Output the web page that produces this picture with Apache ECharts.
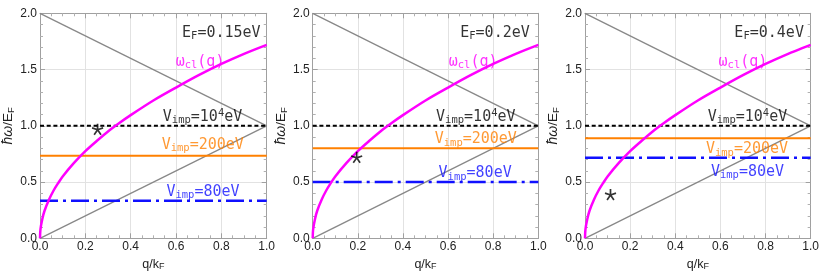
<!DOCTYPE html>
<html>
<head>
<meta charset="utf-8">
<script src="https://cdn.jsdelivr.net/npm/echarts@6/dist/echarts.min.js"></script>
<style>html,body{margin:0;padding:0;background:#fff}#c{width:822px;height:280px}</style>
</head>
<body>
<div id="c"></div>
<script>
// ---- data ----
const qCurve   = [0, 0.002, 0.01, 0.02, 0.04, 0.06, 0.08, 0.1, 0.15, 0.2, 0.25, 0.3, 0.35, 0.4, 0.5, 0.6, 0.7, 0.8, 0.9, 1.0];
const omegaCl  = [0, 0.08, 0.17, 0.245, 0.345, 0.425, 0.49, 0.55, 0.67, 0.775, 0.865, 0.95, 1.025, 1.095, 1.225, 1.34, 1.45, 1.55, 1.64, 1.72];
const grayDownQ = [0, 1];  const grayDownW = [2, 1];
const grayUpQ   = [0, 1];  const grayUpW   = [0, 1];
const efValues  = ['0.15', '0.2', '0.4'];
const vImp1e4   = [1.0, 1.0, 1.0];
const vImp200   = [0.734, 0.80, 0.889];
const vImp80    = [0.333, 0.50, 0.716];
const starQ     = [0.254, 0.195, 0.113];
const starW     = [0.97, 0.72, 0.39];
const xTicks    = [0, 0.2, 0.4, 0.6, 0.8, 1.0];
const yTicks    = [0, 0.5, 1.0, 1.5, 2.0];

// ---- layout / style (not data) ----
const grids = [
  {left: 40,    top: 13.3, width: 226.7, height: 225},
  {left: 312.7, top: 13.3, width: 225.6, height: 225},
  {left: 585,   top: 13.3, width: 226.7, height: 225}
];
const annPos = [
  {ef:[0.80,1.825], om:[0.706,1.57], v4:[0.717,1.078], v2:[0.718,0.83], v8:[0.719,0.414]},
  {ef:[0.808,1.825], om:[0.711,1.57], v4:[0.723,1.078], v2:[0.723,0.878], v8:[0.72,0.578]},
  {ef:[0.816,1.825], om:[0.70,1.57], v4:[0.72,1.08], v2:[0.718,0.79], v8:[0.72,0.592]}
];
const MONO = '"DejaVu Sans Mono", monospace';
const SANS = '"Liberation Sans", Arial, sans-serif';
const MAG = '#ff00ff', ORG = '#ff8000', BLU = '#1010ff';

function richFor(color) {
  return {
    m: {fontFamily: MONO, fontSize: 15, color: color, lineHeight: 18, verticalAlign: 'middle'},
    s: {fontFamily: MONO, fontSize: 10.5, color: color, lineHeight: 10, verticalAlign: 'bottom'},
    p: {fontFamily: MONO, fontSize: 10.5, color: color, lineHeight: 10, verticalAlign: 'top'}
  };
}

const xAxes = [], yAxes = [], series = [];
const fmt = v => v.toFixed(1);
grids.forEach((g, i) => {
  const common = {
    gridIndex: i, min: 0,
    axisLine: {show: true, onZero: false, lineStyle: {color: '#a0a0a0', width: 1}},
    axisTick: {show: true, inside: true, length: 5, lineStyle: {color: '#a0a0a0'}},
    minorTick: {show: true, length: 3, lineStyle: {color: '#b0b0b0'}}
  };
  xAxes.push(Object.assign({}, common, {
    type: 'value', position: 'bottom', max: 1, interval: xTicks[1] - xTicks[0],
    minorTick: Object.assign({}, common.minorTick, {splitNumber: 4}),
    splitLine: {show: true, lineStyle: {color: '#e2e2e2', width: 1}},
    axisLabel: {show: true, margin: 2, fontFamily: SANS, fontSize: 12, color: '#222', formatter: fmt},
    name: '{n|q/k}{s|F}', nameLocation: 'middle', nameGap: 19,
    nameTextStyle: {rich: {n: {fontFamily: SANS, fontSize: 12.5, color: '#222', lineHeight: 14}, s: {fontFamily: SANS, fontSize: 9, color: '#222', lineHeight: 8, verticalAlign: 'bottom'}}}
  }));
  xAxes.push(Object.assign({}, common, {
    type: 'value', position: 'top', max: 1, interval: xTicks[1] - xTicks[0],
    minorTick: Object.assign({}, common.minorTick, {splitNumber: 4}),
    splitLine: {show: false}, axisLabel: {show: false}
  }));
  yAxes.push(Object.assign({}, common, {
    type: 'value', position: 'left', max: 2, interval: yTicks[1] - yTicks[0],
    minorTick: Object.assign({}, common.minorTick, {splitNumber: 5}),
    splitLine: {show: true, lineStyle: {color: '#e2e2e2', width: 1}},
    axisLabel: {show: true, margin: 3, fontFamily: SANS, fontSize: 12, color: '#222', formatter: fmt},
    name: '{i|ħω}{n|/E}{s|F}', nameLocation: 'middle', nameGap: 20,
    nameTextStyle: {padding: [0, 0, 0, 0], rich: {
      i: {fontFamily: SANS, fontStyle: 'italic', fontSize: 14, color: '#222', lineHeight: 16},
      n: {fontFamily: SANS, fontSize: 13.5, color: '#222', lineHeight: 16},
      s: {fontFamily: SANS, fontSize: 9.5, color: '#222', lineHeight: 9, verticalAlign: 'bottom'}}}
  }));
  yAxes.push(Object.assign({}, common, {
    type: 'value', position: 'right', max: 2, interval: yTicks[1] - yTicks[0],
    minorTick: Object.assign({}, common.minorTick, {splitNumber: 5}),
    splitLine: {show: false}, axisLabel: {show: false}
  }));
  const xi = 2 * i, yi = 2 * i;
  const base = {type: 'line', xAxisIndex: xi, yAxisIndex: yi, symbol: 'none', silent: true, animation: false};
  series.push(Object.assign({}, base, {data: grayDownQ.map((q, k) => [q, grayDownW[k]]), lineStyle: {color: '#888', width: 1.3}, z: 2}));
  series.push(Object.assign({}, base, {data: grayUpQ.map((q, k) => [q, grayUpW[k]]), lineStyle: {color: '#888', width: 1.3}, z: 2}));
  series.push(Object.assign({}, base, {data: [[0, vImp200[i]], [1, vImp200[i]]], lineStyle: {color: ORG, width: 2}, z: 3}));
  series.push(Object.assign({}, base, {data: [[0, vImp80[i]], [1, vImp80[i]]], lineStyle: {color: BLU, width: 2.5, type: [18, 5, 3, 5]}, z: 3}));
  series.push(Object.assign({}, base, {data: [[0, vImp1e4[i]], [1, vImp1e4[i]]], lineStyle: {color: '#000', width: 2, type: [4, 2.7]}, z: 3}));
  series.push(Object.assign({}, base, {data: qCurve.map((q, k) => [q, omegaCl[k]]), smooth: 0.3, lineStyle: {color: MAG, width: 2.5}, z: 4}));
  series.push({type: 'scatter', xAxisIndex: xi, yAxisIndex: yi, silent: true, animation: false, z: 5,
    symbol: 'path://M0,-10L0,0M0,0L9.5,-3.1M0,0L5.9,8.1M0,0L-5.9,8.1M0,0L-9.5,-3.1',
    symbolSize: 11, itemStyle: {color: 'none', borderColor: '#000', borderWidth: 1.7},
    data: [[starQ[i], starW[i]]]});
  const a = annPos[i];
  const ann = [
    {value: a.ef, text: '{m|E}{s|F}{m|=' + efValues[i] + 'eV}', color: '#000'},
    {value: a.om, text: '{m|ω}{s|cl}{m|(q)}', color: MAG},
    {value: a.v4, text: '{m|V}{s|imp}{m|=10}{p|4}{m|eV}', color: '#000'},
    {value: a.v2, text: '{m|V}{s|imp}{m|=200eV}', color: ORG},
    {value: a.v8, text: '{m|V}{s|imp}{m|=80eV}', color: BLU}
  ];
  series.push({type: 'scatter', xAxisIndex: xi, yAxisIndex: yi, silent: true, animation: false, z: 6,
    symbolSize: 1, itemStyle: {color: 'transparent'},
    data: ann.map(d => ({value: d.value, label: {show: true, position: 'inside', align: 'center', verticalAlign: 'middle', formatter: d.text, rich: richFor(d.color)}}))});
});

const chart = echarts.init(document.getElementById('c'), null, {renderer: 'canvas'});
chart.setOption({
  animation: false,
  backgroundColor: '#fff',
  grid: grids.map(g => Object.assign({containLabel: false}, g)),
  xAxis: xAxes,
  yAxis: yAxes,
  series: series
});
</script>
</body>
</html>
